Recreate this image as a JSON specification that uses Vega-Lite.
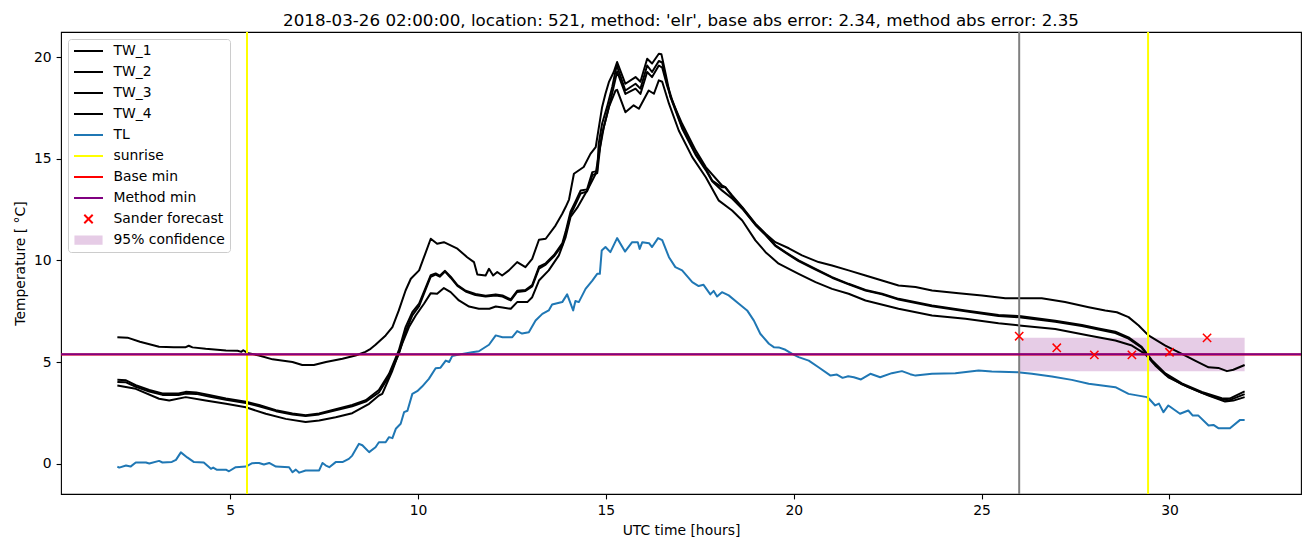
{
  "$schema": "https://vega.github.io/schema/vega-lite/v6.json",
  "width": 1240,
  "height": 462,
  "autosize": {"type": "none"},
  "padding": {"left": 61, "top": 32, "right": 9, "bottom": 53},
  "background": "white",
  "config": {
    "font": "DejaVu Sans",
    "view": {"stroke": "black", "strokeWidth": 1.1},
    "axis": {
      "labelFont": "DejaVu Sans", "labelFontSize": 13.9, "labelColor": "black",
      "titleFont": "DejaVu Sans", "titleFontSize": 13.9, "titleFontWeight": "normal", "titleColor": "black",
      "tickColor": "black", "tickSize": 4.9, "tickWidth": 1.1, "domain": false, "grid": false,
      "labelPadding": 4.9, "titlePadding": 5.6
    },
    "legend": {
      "orient": "top-left",
      "offset": 7,
      "padding": 5,
      "labelFont": "DejaVu Sans",
      "labelFontSize": 13.9,
      "labelColor": "black",
      "labelOffset": 9.5,
      "labelLimit": 300,
      "symbolSize": 841,
      "symbolStrokeWidth": 2,
      "symbolOpacity": 1,
      "clipHeight": 14,
      "rowPadding": 7,
      "strokeColor": "#cccccc",
      "fillColor": "rgba(255,255,255,0.8)",
      "cornerRadius": 3
    }
  },
  "title": {
    "text": "2018-03-26 02:00:00, location: 521, method: 'elr', base abs error: 2.34, method abs error: 2.35",
    "font": "DejaVu Sans", "fontSize": 16.7, "fontWeight": "normal", "color": "black",
    "anchor": "middle", "baseline": "alphabetic", "offset": -11.6, "frame": "group"
  },
  "datasets": {
    "lines": [
      {"series":"TW_1","t":2.0,"v":6.22},{"series":"TW_1","t":2.27,"v":6.2},{"series":"TW_1","t":2.6,"v":6.0},{"series":"TW_1","t":3.11,"v":5.75},{"series":"TW_1","t":3.5,"v":5.73},{"series":"TW_1","t":3.82,"v":5.73},{"series":"TW_1","t":3.9,"v":5.8},{"series":"TW_1","t":4.0,"v":5.72},{"series":"TW_1","t":4.35,"v":5.65},{"series":"TW_1","t":4.89,"v":5.57},{"series":"TW_1","t":5.2,"v":5.55},{"series":"TW_1","t":5.3,"v":5.5},{"series":"TW_1","t":5.35,"v":5.58},{"series":"TW_1","t":5.46,"v":5.45},{"series":"TW_1","t":5.77,"v":5.32},{"series":"TW_1","t":6.13,"v":5.13},{"series":"TW_1","t":6.66,"v":5.0},{"series":"TW_1","t":6.92,"v":4.85},{"series":"TW_1","t":7.23,"v":4.85},{"series":"TW_1","t":7.55,"v":5.0},{"series":"TW_1","t":7.99,"v":5.16},{"series":"TW_1","t":8.34,"v":5.32},{"series":"TW_1","t":8.6,"v":5.5},{"series":"TW_1","t":8.74,"v":5.65},{"series":"TW_1","t":8.87,"v":5.85},{"series":"TW_1","t":9.14,"v":6.31},{"series":"TW_1","t":9.32,"v":6.72},{"series":"TW_1","t":9.49,"v":7.54},{"series":"TW_1","t":9.67,"v":8.52},{"series":"TW_1","t":9.81,"v":9.1},{"series":"TW_1","t":10.03,"v":9.51},{"series":"TW_1","t":10.16,"v":10.16},{"series":"TW_1","t":10.34,"v":11.07},{"series":"TW_1","t":10.51,"v":10.82},{"series":"TW_1","t":10.69,"v":10.9},{"series":"TW_1","t":11.05,"v":10.58},{"series":"TW_1","t":11.31,"v":10.16},{"series":"TW_1","t":11.49,"v":9.92},{"series":"TW_1","t":11.58,"v":9.31},{"series":"TW_1","t":11.8,"v":9.26},{"series":"TW_1","t":11.89,"v":9.59},{"series":"TW_1","t":12.0,"v":9.26},{"series":"TW_1","t":12.11,"v":9.43},{"series":"TW_1","t":12.24,"v":9.26},{"series":"TW_1","t":12.42,"v":9.51},{"series":"TW_1","t":12.64,"v":9.92},{"series":"TW_1","t":12.86,"v":9.67},{"series":"TW_1","t":13.04,"v":10.08},{"series":"TW_1","t":13.22,"v":11.02},{"series":"TW_1","t":13.4,"v":11.07},{"series":"TW_1","t":13.66,"v":11.72},{"series":"TW_1","t":13.84,"v":12.3},{"series":"TW_1","t":13.93,"v":12.63},{"series":"TW_1","t":14.02,"v":13.0},{"series":"TW_1","t":14.15,"v":14.27},{"series":"TW_1","t":14.41,"v":14.6},{"series":"TW_1","t":14.59,"v":15.25},{"series":"TW_1","t":14.73,"v":15.58},{"series":"TW_1","t":14.9,"v":17.55},{"series":"TW_1","t":14.99,"v":18.21},{"series":"TW_1","t":15.08,"v":18.78},{"series":"TW_1","t":15.21,"v":19.28},{"series":"TW_1","t":15.3,"v":19.77},{"series":"TW_1","t":15.52,"v":18.7},{"series":"TW_1","t":15.79,"v":19.03},{"series":"TW_1","t":15.92,"v":18.8},{"series":"TW_1","t":16.1,"v":19.93},{"series":"TW_1","t":16.23,"v":19.7},{"series":"TW_1","t":16.41,"v":20.18},{"series":"TW_1","t":16.48,"v":20.15},{"series":"TW_1","t":16.59,"v":19.2},{"series":"TW_1","t":16.72,"v":18.04},{"series":"TW_1","t":17.03,"v":16.73},{"series":"TW_1","t":17.39,"v":15.42},{"series":"TW_1","t":17.66,"v":14.6},{"series":"TW_1","t":18.09,"v":13.69},{"series":"TW_1","t":18.18,"v":13.61},{"series":"TW_1","t":18.36,"v":13.2},{"series":"TW_1","t":18.63,"v":12.63},{"series":"TW_1","t":18.98,"v":11.81},{"series":"TW_1","t":19.25,"v":11.32},{"series":"TW_1","t":19.51,"v":10.9},{"series":"TW_1","t":19.87,"v":10.6},{"series":"TW_1","t":20.22,"v":10.25},{"series":"TW_1","t":20.66,"v":9.92},{"series":"TW_1","t":21.02,"v":9.75},{"series":"TW_1","t":21.46,"v":9.51},{"series":"TW_1","t":21.91,"v":9.26},{"series":"TW_1","t":22.35,"v":9.01},{"series":"TW_1","t":22.79,"v":8.77},{"series":"TW_1","t":23.24,"v":8.69},{"series":"TW_1","t":23.68,"v":8.52},{"series":"TW_1","t":24.39,"v":8.39},{"series":"TW_1","t":25.01,"v":8.28},{"series":"TW_1","t":25.63,"v":8.14},{"series":"TW_1","t":26.6,"v":8.14},{"series":"TW_1","t":27.22,"v":7.95},{"series":"TW_1","t":27.85,"v":7.7},{"series":"TW_1","t":28.29,"v":7.54},{"series":"TW_1","t":28.6,"v":7.45},{"series":"TW_1","t":28.91,"v":7.21},{"series":"TW_1","t":29.18,"v":6.8},{"series":"TW_1","t":29.44,"v":6.31},{"series":"TW_1","t":29.89,"v":5.81},{"series":"TW_1","t":30.33,"v":5.4},{"series":"TW_1","t":30.68,"v":5.07},{"series":"TW_1","t":31.04,"v":4.74},{"series":"TW_1","t":31.3,"v":4.71},{"series":"TW_1","t":31.53,"v":4.55},{"series":"TW_1","t":31.7,"v":4.62},{"series":"TW_1","t":32.0,"v":4.85},

      {"series":"TW_2","t":2.0,"v":4.12},{"series":"TW_2","t":2.23,"v":4.1},{"series":"TW_2","t":2.49,"v":3.86},{"series":"TW_2","t":2.85,"v":3.62},{"series":"TW_2","t":3.2,"v":3.45},{"series":"TW_2","t":3.63,"v":3.45},{"series":"TW_2","t":3.82,"v":3.53},{"series":"TW_2","t":4.1,"v":3.5},{"series":"TW_2","t":4.44,"v":3.37},{"series":"TW_2","t":4.89,"v":3.2},{"series":"TW_2","t":5.42,"v":3.04},{"series":"TW_2","t":5.77,"v":2.88},{"series":"TW_2","t":6.22,"v":2.63},{"series":"TW_2","t":6.66,"v":2.47},{"series":"TW_2","t":7.01,"v":2.38},{"series":"TW_2","t":7.37,"v":2.47},{"series":"TW_2","t":7.81,"v":2.67},{"series":"TW_2","t":8.25,"v":2.88},{"series":"TW_2","t":8.61,"v":3.12},{"series":"TW_2","t":8.96,"v":3.62},{"series":"TW_2","t":9.23,"v":4.42},{"series":"TW_2","t":9.49,"v":5.57},{"series":"TW_2","t":9.67,"v":6.72},{"series":"TW_2","t":9.85,"v":7.45},{"series":"TW_2","t":10.03,"v":7.87},{"series":"TW_2","t":10.21,"v":8.69},{"series":"TW_2","t":10.34,"v":9.28},{"series":"TW_2","t":10.47,"v":9.36},{"series":"TW_2","t":10.58,"v":9.25},{"series":"TW_2","t":10.72,"v":9.49},{"series":"TW_2","t":10.87,"v":9.2},{"series":"TW_2","t":11.05,"v":8.79},{"series":"TW_2","t":11.27,"v":8.51},{"series":"TW_2","t":11.53,"v":8.35},{"series":"TW_2","t":11.8,"v":8.26},{"series":"TW_2","t":12.07,"v":8.33},{"series":"TW_2","t":12.25,"v":8.28},{"series":"TW_2","t":12.47,"v":8.08},{"series":"TW_2","t":12.64,"v":8.51},{"series":"TW_2","t":12.86,"v":8.54},{"series":"TW_2","t":13.04,"v":8.79},{"series":"TW_2","t":13.22,"v":9.69},{"series":"TW_2","t":13.4,"v":9.86},{"series":"TW_2","t":13.62,"v":10.27},{"series":"TW_2","t":13.84,"v":10.84},{"series":"TW_2","t":13.93,"v":11.42},{"series":"TW_2","t":14.06,"v":12.4},{"series":"TW_2","t":14.19,"v":12.9},{"series":"TW_2","t":14.33,"v":13.45},{"series":"TW_2","t":14.5,"v":13.5},{"series":"TW_2","t":14.64,"v":14.35},{"series":"TW_2","t":14.77,"v":14.4},{"series":"TW_2","t":14.81,"v":15.75},{"series":"TW_2","t":14.9,"v":16.73},{"series":"TW_2","t":15.03,"v":17.55},{"series":"TW_2","t":15.17,"v":18.54},{"series":"TW_2","t":15.27,"v":19.44},{"series":"TW_2","t":15.3,"v":19.55},{"series":"TW_2","t":15.52,"v":18.37},{"series":"TW_2","t":15.79,"v":18.7},{"series":"TW_2","t":15.92,"v":18.46},{"series":"TW_2","t":16.1,"v":19.6},{"series":"TW_2","t":16.23,"v":19.28},{"series":"TW_2","t":16.41,"v":19.82},{"series":"TW_2","t":16.5,"v":19.75},{"series":"TW_2","t":16.63,"v":18.7},{"series":"TW_2","t":16.77,"v":17.88},{"series":"TW_2","t":17.03,"v":16.57},{"series":"TW_2","t":17.39,"v":15.25},{"series":"TW_2","t":17.66,"v":14.52},{"series":"TW_2","t":17.83,"v":13.94},{"series":"TW_2","t":18.09,"v":13.6},{"series":"TW_2","t":18.18,"v":13.6},{"series":"TW_2","t":18.36,"v":13.15},{"series":"TW_2","t":18.63,"v":12.6},{"series":"TW_2","t":18.98,"v":11.78},{"series":"TW_2","t":19.25,"v":11.28},{"series":"TW_2","t":19.51,"v":10.75},{"series":"TW_2","t":19.78,"v":10.41},{"series":"TW_2","t":20.13,"v":10.0},{"series":"TW_2","t":20.58,"v":9.59},{"series":"TW_2","t":21.02,"v":9.18},{"series":"TW_2","t":21.46,"v":8.85},{"series":"TW_2","t":21.91,"v":8.55},{"series":"TW_2","t":22.35,"v":8.36},{"series":"TW_2","t":22.79,"v":8.11},{"series":"TW_2","t":23.68,"v":7.78},{"series":"TW_2","t":24.57,"v":7.54},{"series":"TW_2","t":25.45,"v":7.31},{"series":"TW_2","t":26.0,"v":7.26},{"series":"TW_2","t":26.96,"v":7.03},{"series":"TW_2","t":27.67,"v":6.82},{"series":"TW_2","t":28.11,"v":6.65},{"series":"TW_2","t":28.56,"v":6.49},{"series":"TW_2","t":28.91,"v":6.21},{"series":"TW_2","t":29.26,"v":5.75},{"series":"TW_2","t":29.53,"v":5.09},{"series":"TW_2","t":29.89,"v":4.44},{"series":"TW_2","t":30.33,"v":3.95},{"series":"TW_2","t":30.86,"v":3.53},{"series":"TW_2","t":31.39,"v":3.22},{"series":"TW_2","t":31.6,"v":3.2},{"series":"TW_2","t":32.0,"v":3.55},

      {"series":"TW_3","t":2.0,"v":4.02},{"series":"TW_3","t":2.23,"v":4.0},{"series":"TW_3","t":2.49,"v":3.78},{"series":"TW_3","t":2.85,"v":3.55},{"series":"TW_3","t":3.2,"v":3.38},{"series":"TW_3","t":3.63,"v":3.38},{"series":"TW_3","t":3.82,"v":3.45},{"series":"TW_3","t":4.1,"v":3.43},{"series":"TW_3","t":4.44,"v":3.3},{"series":"TW_3","t":4.89,"v":3.14},{"series":"TW_3","t":5.42,"v":2.98},{"series":"TW_3","t":5.77,"v":2.82},{"series":"TW_3","t":6.22,"v":2.58},{"series":"TW_3","t":6.66,"v":2.42},{"series":"TW_3","t":7.01,"v":2.34},{"series":"TW_3","t":7.37,"v":2.42},{"series":"TW_3","t":7.81,"v":2.62},{"series":"TW_3","t":8.25,"v":2.82},{"series":"TW_3","t":8.61,"v":3.05},{"series":"TW_3","t":8.96,"v":3.5},{"series":"TW_3","t":9.23,"v":4.3},{"series":"TW_3","t":9.49,"v":5.4},{"series":"TW_3","t":9.67,"v":6.5},{"series":"TW_3","t":9.85,"v":7.3},{"series":"TW_3","t":10.03,"v":7.75},{"series":"TW_3","t":10.21,"v":8.6},{"series":"TW_3","t":10.34,"v":9.2},{"series":"TW_3","t":10.47,"v":9.3},{"series":"TW_3","t":10.58,"v":9.2},{"series":"TW_3","t":10.72,"v":9.45},{"series":"TW_3","t":10.87,"v":9.15},{"series":"TW_3","t":11.05,"v":8.75},{"series":"TW_3","t":11.27,"v":8.47},{"series":"TW_3","t":11.53,"v":8.3},{"series":"TW_3","t":11.8,"v":8.22},{"series":"TW_3","t":12.07,"v":8.28},{"series":"TW_3","t":12.25,"v":8.22},{"series":"TW_3","t":12.47,"v":8.03},{"series":"TW_3","t":12.64,"v":8.45},{"series":"TW_3","t":12.86,"v":8.5},{"series":"TW_3","t":13.04,"v":8.72},{"series":"TW_3","t":13.22,"v":9.6},{"series":"TW_3","t":13.4,"v":9.8},{"series":"TW_3","t":13.62,"v":10.2},{"series":"TW_3","t":13.84,"v":10.75},{"series":"TW_3","t":13.93,"v":11.3},{"series":"TW_3","t":14.06,"v":12.25},{"series":"TW_3","t":14.19,"v":12.75},{"series":"TW_3","t":14.33,"v":13.3},{"series":"TW_3","t":14.5,"v":13.4},{"series":"TW_3","t":14.64,"v":14.2},{"series":"TW_3","t":14.77,"v":14.3},{"series":"TW_3","t":14.85,"v":15.6},{"series":"TW_3","t":14.95,"v":16.6},{"series":"TW_3","t":15.06,"v":17.4},{"series":"TW_3","t":15.19,"v":18.4},{"series":"TW_3","t":15.3,"v":19.3},{"series":"TW_3","t":15.52,"v":18.2},{"series":"TW_3","t":15.79,"v":18.46},{"series":"TW_3","t":15.92,"v":18.2},{"series":"TW_3","t":16.1,"v":19.28},{"series":"TW_3","t":16.23,"v":19.03},{"series":"TW_3","t":16.41,"v":19.6},{"series":"TW_3","t":16.5,"v":19.5},{"series":"TW_3","t":16.63,"v":18.6},{"series":"TW_3","t":16.77,"v":17.8},{"series":"TW_3","t":17.03,"v":16.5},{"series":"TW_3","t":17.39,"v":15.2},{"series":"TW_3","t":17.66,"v":14.45},{"series":"TW_3","t":17.83,"v":13.9},{"series":"TW_3","t":18.09,"v":13.45},{"series":"TW_3","t":18.36,"v":13.05},{"series":"TW_3","t":18.63,"v":12.55},{"series":"TW_3","t":18.98,"v":11.75},{"series":"TW_3","t":19.25,"v":11.25},{"series":"TW_3","t":19.51,"v":10.72},{"series":"TW_3","t":19.78,"v":10.38},{"series":"TW_3","t":20.13,"v":9.97},{"series":"TW_3","t":20.58,"v":9.55},{"series":"TW_3","t":21.02,"v":9.15},{"series":"TW_3","t":21.46,"v":8.82},{"series":"TW_3","t":21.91,"v":8.52},{"series":"TW_3","t":22.35,"v":8.33},{"series":"TW_3","t":22.79,"v":8.08},{"series":"TW_3","t":23.68,"v":7.74},{"series":"TW_3","t":24.57,"v":7.5},{"series":"TW_3","t":25.45,"v":7.27},{"series":"TW_3","t":26.0,"v":7.2},{"series":"TW_3","t":26.96,"v":6.98},{"series":"TW_3","t":27.67,"v":6.77},{"series":"TW_3","t":28.11,"v":6.6},{"series":"TW_3","t":28.56,"v":6.43},{"series":"TW_3","t":28.91,"v":6.15},{"series":"TW_3","t":29.26,"v":5.7},{"series":"TW_3","t":29.53,"v":5.05},{"series":"TW_3","t":29.89,"v":4.38},{"series":"TW_3","t":30.33,"v":3.9},{"series":"TW_3","t":30.86,"v":3.48},{"series":"TW_3","t":31.39,"v":3.15},{"series":"TW_3","t":31.6,"v":3.12},{"series":"TW_3","t":32.0,"v":3.42},

      {"series":"TW_4","t":2.0,"v":3.84},{"series":"TW_4","t":2.49,"v":3.68},{"series":"TW_4","t":3.11,"v":3.19},{"series":"TW_4","t":3.38,"v":3.1},{"series":"TW_4","t":3.82,"v":3.27},{"series":"TW_4","t":4.35,"v":3.1},{"series":"TW_4","t":4.89,"v":2.94},{"series":"TW_4","t":5.42,"v":2.77},{"series":"TW_4","t":5.95,"v":2.45},{"series":"TW_4","t":6.48,"v":2.2},{"series":"TW_4","t":7.01,"v":2.04},{"series":"TW_4","t":7.37,"v":2.12},{"series":"TW_4","t":7.81,"v":2.28},{"series":"TW_4","t":8.25,"v":2.48},{"series":"TW_4","t":8.7,"v":2.94},{"series":"TW_4","t":8.96,"v":3.35},{"series":"TW_4","t":9.05,"v":3.43},{"series":"TW_4","t":9.32,"v":4.58},{"series":"TW_4","t":9.58,"v":5.9},{"series":"TW_4","t":9.76,"v":6.72},{"series":"TW_4","t":9.94,"v":7.29},{"series":"TW_4","t":10.16,"v":7.87},{"series":"TW_4","t":10.34,"v":8.39},{"series":"TW_4","t":10.51,"v":8.36},{"series":"TW_4","t":10.69,"v":8.64},{"series":"TW_4","t":10.87,"v":8.44},{"series":"TW_4","t":11.09,"v":8.03},{"series":"TW_4","t":11.36,"v":7.73},{"series":"TW_4","t":11.62,"v":7.62},{"series":"TW_4","t":11.9,"v":7.62},{"series":"TW_4","t":12.07,"v":7.73},{"series":"TW_4","t":12.25,"v":7.68},{"series":"TW_4","t":12.47,"v":7.62},{"series":"TW_4","t":12.64,"v":7.95},{"series":"TW_4","t":12.91,"v":7.95},{"series":"TW_4","t":13.04,"v":8.19},{"series":"TW_4","t":13.22,"v":9.01},{"series":"TW_4","t":13.48,"v":9.51},{"series":"TW_4","t":13.75,"v":10.25},{"series":"TW_4","t":13.93,"v":11.15},{"series":"TW_4","t":14.06,"v":12.14},{"series":"TW_4","t":14.24,"v":12.6},{"series":"TW_4","t":14.55,"v":13.61},{"series":"TW_4","t":14.73,"v":14.27},{"series":"TW_4","t":14.9,"v":16.24},{"series":"TW_4","t":15.08,"v":17.55},{"series":"TW_4","t":15.26,"v":18.37},{"series":"TW_4","t":15.3,"v":18.4},{"series":"TW_4","t":15.52,"v":17.3},{"series":"TW_4","t":15.74,"v":17.64},{"series":"TW_4","t":15.88,"v":17.47},{"series":"TW_4","t":16.14,"v":18.37},{"series":"TW_4","t":16.28,"v":18.21},{"series":"TW_4","t":16.41,"v":18.87},{"series":"TW_4","t":16.5,"v":18.8},{"series":"TW_4","t":16.68,"v":17.72},{"series":"TW_4","t":16.94,"v":16.4},{"series":"TW_4","t":17.3,"v":15.09},{"series":"TW_4","t":17.66,"v":14.1},{"series":"TW_4","t":18.0,"v":12.96},{"series":"TW_4","t":18.36,"v":12.46},{"series":"TW_4","t":18.63,"v":11.97},{"series":"TW_4","t":18.98,"v":10.99},{"series":"TW_4","t":19.25,"v":10.41},{"series":"TW_4","t":19.6,"v":9.84},{"series":"TW_4","t":20.13,"v":9.34},{"series":"TW_4","t":20.58,"v":8.93},{"series":"TW_4","t":21.02,"v":8.6},{"series":"TW_4","t":21.46,"v":8.36},{"series":"TW_4","t":21.91,"v":8.03},{"series":"TW_4","t":22.79,"v":7.62},{"series":"TW_4","t":23.68,"v":7.29},{"series":"TW_4","t":24.57,"v":7.13},{"series":"TW_4","t":25.45,"v":6.91},{"series":"TW_4","t":26.0,"v":6.8},{"series":"TW_4","t":26.96,"v":6.63},{"series":"TW_4","t":27.85,"v":6.31},{"series":"TW_4","t":28.56,"v":6.06},{"series":"TW_4","t":29.0,"v":5.81},{"series":"TW_4","t":29.35,"v":5.4},{"series":"TW_4","t":29.62,"v":4.83},{"series":"TW_4","t":29.97,"v":4.25},{"series":"TW_4","t":30.5,"v":3.76},{"series":"TW_4","t":31.04,"v":3.35},{"series":"TW_4","t":31.48,"v":3.05},{"series":"TW_4","t":31.7,"v":3.1},{"series":"TW_4","t":32.0,"v":3.27},

      {"series":"TL","t":2.0,"v":-0.15},{"series":"TL","t":2.05,"v":-0.2},{"series":"TL","t":2.23,"v":-0.1},{"series":"TL","t":2.35,"v":-0.15},{"series":"TL","t":2.49,"v":0.05},{"series":"TL","t":2.76,"v":0.05},{"series":"TL","t":2.85,"v":0.0},{"series":"TL","t":3.11,"v":0.13},{"series":"TL","t":3.2,"v":0.05},{"series":"TL","t":3.45,"v":0.08},{"series":"TL","t":3.56,"v":0.18},{"series":"TL","t":3.69,"v":0.55},{"series":"TL","t":3.86,"v":0.3},{"series":"TL","t":4.04,"v":0.07},{"series":"TL","t":4.3,"v":0.05},{"series":"TL","t":4.49,"v":-0.26},{"series":"TL","t":4.55,"v":-0.2},{"series":"TL","t":4.64,"v":-0.3},{"series":"TL","t":4.89,"v":-0.3},{"series":"TL","t":4.97,"v":-0.38},{"series":"TL","t":5.15,"v":-0.18},{"series":"TL","t":5.42,"v":-0.15},{"series":"TL","t":5.59,"v":0.02},{"series":"TL","t":5.77,"v":0.03},{"series":"TL","t":5.9,"v":-0.05},{"series":"TL","t":6.04,"v":0.03},{"series":"TL","t":6.22,"v":-0.15},{"series":"TL","t":6.57,"v":-0.18},{"series":"TL","t":6.66,"v":-0.43},{"series":"TL","t":6.75,"v":-0.3},{"series":"TL","t":6.84,"v":-0.45},{"series":"TL","t":7.01,"v":-0.34},{"series":"TL","t":7.37,"v":-0.34},{"series":"TL","t":7.46,"v":0.03},{"series":"TL","t":7.55,"v":-0.1},{"series":"TL","t":7.64,"v":-0.18},{"series":"TL","t":7.81,"v":0.07},{"series":"TL","t":7.99,"v":0.07},{"series":"TL","t":8.16,"v":0.23},{"series":"TL","t":8.25,"v":0.39},{"series":"TL","t":8.43,"v":0.97},{"series":"TL","t":8.52,"v":0.9},{"series":"TL","t":8.7,"v":0.56},{"series":"TL","t":8.87,"v":0.8},{"series":"TL","t":8.96,"v":1.05},{"series":"TL","t":9.14,"v":1.05},{"series":"TL","t":9.23,"v":1.3},{"series":"TL","t":9.32,"v":1.25},{"series":"TL","t":9.41,"v":1.71},{"series":"TL","t":9.54,"v":1.96},{"series":"TL","t":9.63,"v":2.53},{"series":"TL","t":9.72,"v":2.6},{"series":"TL","t":9.85,"v":3.43},{"series":"TL","t":9.98,"v":3.56},{"series":"TL","t":10.11,"v":3.79},{"series":"TL","t":10.29,"v":4.17},{"series":"TL","t":10.47,"v":4.69},{"series":"TL","t":10.6,"v":4.72},{"series":"TL","t":10.74,"v":5.07},{"series":"TL","t":10.83,"v":5.0},{"series":"TL","t":10.91,"v":5.29},{"series":"TL","t":11.18,"v":5.4},{"series":"TL","t":11.44,"v":5.48},{"series":"TL","t":11.62,"v":5.53},{"series":"TL","t":11.89,"v":5.85},{"series":"TL","t":12.07,"v":6.31},{"series":"TL","t":12.25,"v":6.22},{"series":"TL","t":12.51,"v":6.22},{"series":"TL","t":12.64,"v":6.52},{"series":"TL","t":12.77,"v":6.4},{"series":"TL","t":12.95,"v":6.47},{"series":"TL","t":13.13,"v":7.04},{"series":"TL","t":13.31,"v":7.37},{"series":"TL","t":13.48,"v":7.54},{"series":"TL","t":13.57,"v":7.83},{"series":"TL","t":13.84,"v":7.95},{"series":"TL","t":13.97,"v":8.33},{"series":"TL","t":14.13,"v":7.54},{"series":"TL","t":14.19,"v":8.0},{"series":"TL","t":14.28,"v":7.95},{"series":"TL","t":14.46,"v":8.6},{"series":"TL","t":14.64,"v":9.01},{"series":"TL","t":14.77,"v":9.34},{"series":"TL","t":14.84,"v":9.34},{"series":"TL","t":14.89,"v":10.49},{"series":"TL","t":14.99,"v":10.66},{"series":"TL","t":15.12,"v":10.41},{"series":"TL","t":15.3,"v":11.1},{"series":"TL","t":15.51,"v":10.44},{"series":"TL","t":15.7,"v":10.9},{"series":"TL","t":15.85,"v":10.9},{"series":"TL","t":15.9,"v":10.57},{"series":"TL","t":15.97,"v":10.9},{"series":"TL","t":16.15,"v":10.85},{"series":"TL","t":16.23,"v":10.66},{"series":"TL","t":16.39,"v":11.1},{"series":"TL","t":16.5,"v":11.0},{"series":"TL","t":16.68,"v":10.16},{"series":"TL","t":16.85,"v":9.67},{"series":"TL","t":17.03,"v":9.51},{"series":"TL","t":17.3,"v":8.93},{"series":"TL","t":17.47,"v":8.74},{"series":"TL","t":17.6,"v":8.8},{"series":"TL","t":17.78,"v":8.33},{"series":"TL","t":17.87,"v":8.5},{"series":"TL","t":17.96,"v":8.23},{"series":"TL","t":18.09,"v":8.44},{"series":"TL","t":18.27,"v":8.28},{"series":"TL","t":18.54,"v":7.87},{"series":"TL","t":18.76,"v":7.54},{"series":"TL","t":18.94,"v":7.04},{"series":"TL","t":19.11,"v":6.39},{"series":"TL","t":19.34,"v":5.9},{"series":"TL","t":19.47,"v":5.73},{"series":"TL","t":19.6,"v":5.72},{"series":"TL","t":19.78,"v":5.6},{"series":"TL","t":19.96,"v":5.4},{"series":"TL","t":20.13,"v":5.24},{"series":"TL","t":20.4,"v":5.07},{"series":"TL","t":20.66,"v":4.74},{"series":"TL","t":20.98,"v":4.33},{"series":"TL","t":21.15,"v":4.38},{"series":"TL","t":21.3,"v":4.22},{"series":"TL","t":21.45,"v":4.3},{"series":"TL","t":21.6,"v":4.25},{"series":"TL","t":21.79,"v":4.14},{"series":"TL","t":22.04,"v":4.42},{"series":"TL","t":22.3,"v":4.25},{"series":"TL","t":22.61,"v":4.45},{"series":"TL","t":22.88,"v":4.55},{"series":"TL","t":23.1,"v":4.4},{"series":"TL","t":23.24,"v":4.33},{"series":"TL","t":23.68,"v":4.42},{"series":"TL","t":24.3,"v":4.45},{"series":"TL","t":24.92,"v":4.58},{"series":"TL","t":25.27,"v":4.53},{"series":"TL","t":25.96,"v":4.5},{"series":"TL","t":26.34,"v":4.42},{"series":"TL","t":26.87,"v":4.29},{"series":"TL","t":27.4,"v":4.12},{"series":"TL","t":27.85,"v":3.93},{"series":"TL","t":28.56,"v":3.76},{"series":"TL","t":28.91,"v":3.43},{"series":"TL","t":29.4,"v":3.27},{"series":"TL","t":29.45,"v":3.2},{"series":"TL","t":29.62,"v":2.86},{"series":"TL","t":29.72,"v":2.95},{"series":"TL","t":29.84,"v":2.53},{"series":"TL","t":29.97,"v":2.86},{"series":"TL","t":30.28,"v":2.45},{"series":"TL","t":30.5,"v":2.61},{"series":"TL","t":30.62,"v":2.36},{"series":"TL","t":30.77,"v":2.36},{"series":"TL","t":31.04,"v":1.87},{"series":"TL","t":31.17,"v":1.9},{"series":"TL","t":31.3,"v":1.74},{"series":"TL","t":31.61,"v":1.74},{"series":"TL","t":31.88,"v":2.15},{"series":"TL","t":32.0,"v":2.15}
    ],
    "sunrise": [{"series": "sunrise", "t": 5.45}, {"series": "sunrise", "t": 29.43}],
    "now": [{"t": 26}],
    "mins": [{"series": "Base min", "v": 5.37}, {"series": "Method min", "v": 5.38}],
    "forecast": [
      {"series": "Sander forecast", "t": 26, "v": 6.27},
      {"series": "Sander forecast", "t": 27, "v": 5.7},
      {"series": "Sander forecast", "t": 28, "v": 5.35},
      {"series": "Sander forecast", "t": 29, "v": 5.35},
      {"series": "Sander forecast", "t": 30, "v": 5.48},
      {"series": "Sander forecast", "t": 31, "v": 6.19}
    ],
    "conf": [{"series": "95% confidence", "t": 26, "t2": 32, "v": 4.55, "v2": 6.19}]
  },
  "layer": [
    {
      "data": {"name": "conf"},
      "mark": {"type": "rect", "opacity": 1},
      "encoding": {
        "x": {"field": "t", "type": "quantitative"},
        "x2": {"field": "t2"},
        "y": {"field": "v", "type": "quantitative"},
        "y2": {"field": "v2"},
        "color": {"field": "series", "type": "nominal"}
      }
    },
    {
      "data": {"name": "lines"},
      "mark": {"type": "line", "strokeWidth": 2, "strokeJoin": "round"},
      "encoding": {
        "x": {
          "field": "t", "type": "quantitative",
          "scale": {"domain": [0.5, 33.5], "nice": false, "zero": false},
          "axis": {"title": "UTC time [hours]", "values": [5, 10, 15, 20, 25, 30], "format": "d"}
        },
        "y": {
          "field": "v", "type": "quantitative",
          "scale": {"domain": [-1.5, 21.25], "nice": false, "zero": false},
          "axis": {"title": "Temperature [ °C]", "values": [0, 5, 10, 15, 20], "format": "d"}
        },
        "color": {
          "field": "series",
          "type": "nominal",
          "scale": {
            "domain": ["TW_1", "TW_2", "TW_3", "TW_4", "TL", "sunrise", "Base min", "Method min", "Sander forecast", "95% confidence"],
            "range": ["#000000", "#000000", "#000000", "#000000", "#1f77b4", "#ffff00", "#ff0000", "#800080", "#ff0000", "#e6cce6"]
          },
          "legend": {"title": null}
        }
      }
    },
    {
      "data": {"name": "sunrise"},
      "mark": {"type": "rule", "strokeWidth": 2},
      "encoding": {
        "x": {"field": "t", "type": "quantitative"},
        "color": {"field": "series", "type": "nominal"}
      }
    },
    {
      "data": {"name": "now"},
      "mark": {"type": "rule", "strokeWidth": 2, "color": "#808080"},
      "encoding": {
        "x": {"field": "t", "type": "quantitative"}
      }
    },
    {
      "data": {"name": "mins"},
      "mark": {"type": "rule", "strokeWidth": 2},
      "encoding": {
        "y": {"field": "v", "type": "quantitative"},
        "color": {"field": "series", "type": "nominal"}
      }
    },
    {
      "data": {"name": "forecast"},
      "mark": {"type": "point", "size": 818, "strokeWidth": 1.5, "filled": false, "opacity": 1},
      "encoding": {
        "x": {"field": "t", "type": "quantitative"},
        "y": {"field": "v", "type": "quantitative"},
        "color": {"field": "series", "type": "nominal"},
        "shape": {
          "field": "series",
          "type": "nominal",
          "scale": {
            "domain": ["TW_1", "TW_2", "TW_3", "TW_4", "TL", "sunrise", "Base min", "Method min", "Sander forecast", "95% confidence"],
            "range": ["M-1,0L1,0", "M-1,0L1,0", "M-1,0L1,0", "M-1,0L1,0", "M-1,0L1,0", "M-1,0L1,0", "M-1,0L1,0", "M-1,0L1,0", "M-0.29,-0.29L0.29,0.29M0.29,-0.29L-0.29,0.29", "M-0.97,-0.25L0.97,-0.25M-0.97,-0.15L0.97,-0.15M-0.97,-0.05L0.97,-0.05M-0.97,0.05L0.97,0.05M-0.97,0.15L0.97,0.15M-0.97,0.25L0.97,0.25"]
          },
          "legend": {"title": null}
        }
      }
    }
  ]
}
